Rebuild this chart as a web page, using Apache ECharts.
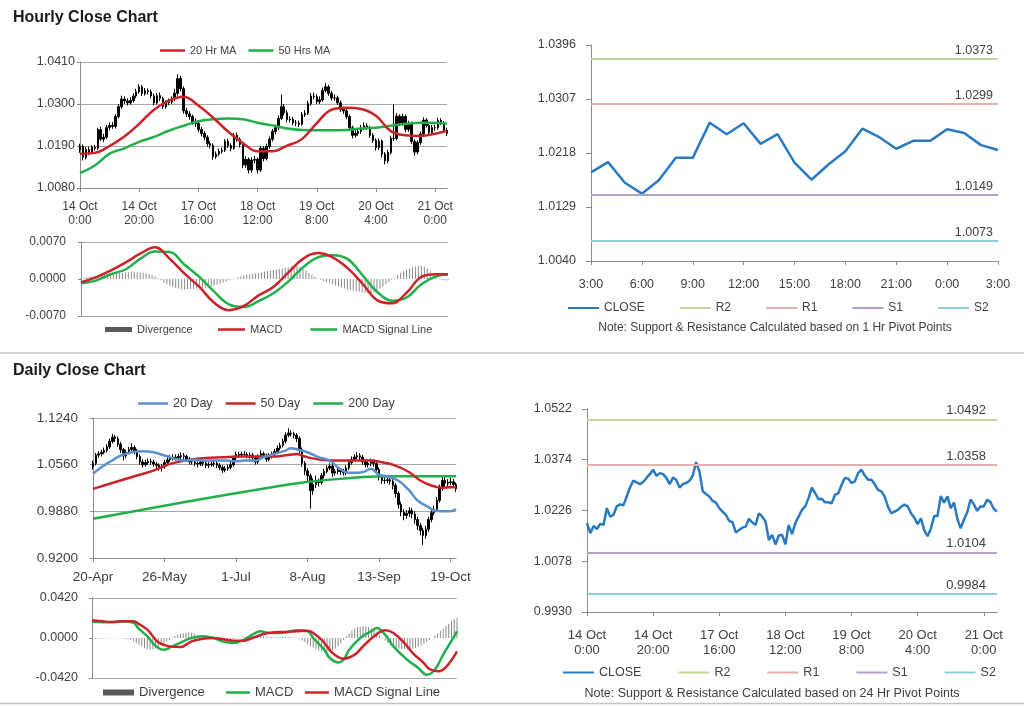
<!DOCTYPE html>
<html><head><meta charset="utf-8">
<script src="https://cdn.jsdelivr.net/npm/echarts@6/dist/echarts.min.js"></script>
<style>html,body{margin:0;padding:0;background:#fff}#c{width:1024px;height:706px}</style>
</head><body><div id="c"></div>
<script>
// ---------------- DATA ----------------
const hourTickLabels = ['14 Oct\n0:00','14 Oct\n20:00','17 Oct\n16:00','18 Oct\n12:00','19 Oct\n8:00','20 Oct\n4:00','21 Oct\n0:00'];
const pivotHourLabels = ['3:00','6:00','9:00','12:00','15:00','18:00','21:00','0:00','3:00'];
const dayTickLabels = ['20-Apr','26-May','1-Jul','8-Aug','13-Sep','19-Oct'];

const hourlyFirstOpen = 1.0180;
const hourlyClose = [1.0189,1.0160,1.0181,1.0172,1.0187,1.0184,1.0233,1.0208,1.0213,1.0238,
1.0244,1.0241,1.0267,1.0293,1.0313,1.0308,1.0303,1.0309,1.0321,1.0332,
1.0345,1.0327,1.0335,1.0332,1.0321,1.0303,1.0322,1.0315,1.0293,1.0303,
1.0306,1.0313,1.0328,1.0367,1.0340,1.0282,1.0274,1.0267,1.0254,1.0249,
1.0233,1.0223,1.0213,1.0196,1.0192,1.0162,1.0169,1.0176,1.0179,1.0202,
1.0191,1.0184,1.0218,1.0208,1.0194,1.0140,1.0155,1.0127,1.0153,1.0155,
1.0127,1.0184,1.0157,1.0189,1.0208,1.0228,1.0238,1.0262,1.0293,1.0277,
1.0259,1.0260,1.0250,1.0250,1.0247,1.0272,1.0276,1.0301,1.0321,1.0319,
1.0306,1.0311,1.0335,1.0345,1.0328,1.0316,1.0316,1.0303,1.0286,1.0282,
1.0267,1.0238,1.0218,1.0223,1.0228,1.0237,1.0243,1.0238,1.0218,1.0205,
1.0186,1.0203,1.0169,1.0151,1.0173,1.0210,1.0210,1.0268,1.0249,1.0267,
1.0233,1.0249,1.0202,1.0174,1.0199,1.0221,1.0258,1.0244,1.0225,1.0238,
1.0238,1.0257,1.0251,1.0231,1.0223];
const hourlyHigh = [1.0196,1.0194,1.0187,1.0188,1.0192,1.0193,1.0238,1.0240,1.0222,1.0245,
1.0252,1.0253,1.0273,1.0300,1.0322,1.0320,1.0315,1.0318,1.0328,1.0340,
1.0352,1.0350,1.0342,1.0341,1.0338,1.0327,1.0329,1.0330,1.0319,1.0310,
1.0314,1.0320,1.0340,1.0378,1.0374,1.0346,1.0290,1.0281,1.0272,1.0262,
1.0255,1.0240,1.0229,1.0218,1.0203,1.0197,1.0176,1.0183,1.0186,1.0208,
1.0209,1.0197,1.0224,1.0225,1.0213,1.0199,1.0163,1.0160,1.0160,1.0164,
1.0160,1.0190,1.0190,1.0196,1.0215,1.0235,1.0246,1.0270,1.0325,1.0300,
1.0284,1.0268,1.0266,1.0258,1.0256,1.0279,1.0284,1.0308,1.0329,1.0330,
1.0326,1.0320,1.0343,1.0355,1.0350,1.0334,1.0325,1.0322,1.0309,1.0293,
1.0288,1.0272,1.0243,1.0231,1.0236,1.0245,1.0252,1.0250,1.0243,1.0224,
1.0210,1.0210,1.0207,1.0174,1.0180,1.0217,1.0300,1.0276,1.0273,1.0274,
1.0272,1.0256,1.0254,1.0207,1.0205,1.0228,1.0265,1.0263,1.0250,1.0245,
1.0246,1.0264,1.0263,1.0256,1.0238];
const hourlyLow = [1.0172,1.0152,1.0155,1.0166,1.0168,1.0178,1.0180,1.0203,1.0200,1.0208,
1.0231,1.0235,1.0236,1.0262,1.0288,1.0300,1.0296,1.0298,1.0304,1.0316,
1.0327,1.0321,1.0322,1.0325,1.0315,1.0297,1.0299,1.0308,1.0287,1.0288,
1.0297,1.0300,1.0308,1.0322,1.0333,1.0275,1.0266,1.0259,1.0246,1.0240,
1.0226,1.0215,1.0205,1.0188,1.0184,1.0154,1.0156,1.0163,1.0170,1.0174,
1.0185,1.0176,1.0180,1.0201,1.0186,1.0132,1.0133,1.0118,1.0120,1.0145,
1.0118,1.0122,1.0150,1.0152,1.0183,1.0202,1.0221,1.0232,1.0258,1.0270,
1.0252,1.0252,1.0244,1.0242,1.0240,1.0243,1.0266,1.0271,1.0296,1.0312,
1.0300,1.0300,1.0306,1.0330,1.0322,1.0309,1.0308,1.0297,1.0279,1.0274,
1.0260,1.0231,1.0210,1.0212,1.0217,1.0222,1.0231,1.0232,1.0211,1.0198,
1.0178,1.0180,1.0160,1.0142,1.0145,1.0168,1.0203,1.0205,1.0242,1.0243,
1.0226,1.0227,1.0195,1.0165,1.0168,1.0193,1.0216,1.0238,1.0218,1.0219,
1.0230,1.0233,1.0245,1.0225,1.0216];

const hrSampleIdx = [0,5,10,15,20,25,30,35,40,45,50,55,60,65,70,75,80,85,90,95,100,105,110,115,120,124];
const ma20Hr = [1.0170,1.0172,1.0190,1.0215,1.0248,1.0285,1.0309,1.0319,1.0296,1.0264,1.0228,1.0198,1.0176,1.0176,1.0191,1.0208,1.0250,1.0285,1.0290,1.0287,1.0269,1.0229,1.0218,1.0216,1.0222,1.0230];
const ma50Hr = [1.0119,1.0139,1.0170,1.0184,1.0201,1.0214,1.0230,1.0243,1.0255,1.0260,1.0262,1.0260,1.0251,1.0244,1.0236,1.0232,1.0231,1.0231,1.0232,1.0236,1.0238,1.0243,1.0248,1.0251,1.0251,1.0248];
const macdHr = [-0.0006,0.0003,0.0016,0.0031,0.0048,0.0060,0.0038,0.0010,-0.0015,-0.0045,-0.0059,-0.0051,-0.0031,-0.0015,0.0012,0.0038,0.0049,0.0041,0.0021,-0.0008,-0.0040,-0.0046,-0.0026,0.0004,0.0009,0.0009];
const signalHr = [-0.0008,-0.0003,0.0009,0.0018,0.0038,0.0052,0.0051,0.0027,0.0004,-0.0024,-0.0048,-0.0053,-0.0042,-0.0027,-0.0005,0.0022,0.0041,0.0045,0.0038,0.0008,-0.0024,-0.0041,-0.0035,-0.0010,0.0005,0.0009];
const divergenceHr = [0.0002,0.0003,0.0004,0.0005,0.0005,0.0006,0.0007,0.0008,0.0008,0.0009,
0.0010,0.0010,0.0011,0.0012,0.0012,0.0013,0.0013,0.0014,0.0014,0.0013,
0.0013,0.0012,0.0011,0.0010,0.0008,0.0005,0.0002,-0.0003,-0.0007,-0.0010,
-0.0013,-0.0015,-0.0017,-0.0018,-0.0019,-0.0020,-0.0020,-0.0019,-0.0019,-0.0018,
-0.0018,-0.0017,-0.0016,-0.0015,-0.0014,-0.0013,-0.0011,-0.0009,-0.0007,-0.0005,
-0.0003,-0.0001,0.0001,0.0003,0.0005,0.0007,0.0008,0.0009,0.0010,0.0011,
0.0012,0.0013,0.0014,0.0015,0.0016,0.0017,0.0018,0.0019,0.0020,0.0021,
0.0022,0.0024,0.0025,0.0024,0.0022,0.0019,0.0016,0.0012,0.0008,0.0004,
0.0001,-0.0002,-0.0004,-0.0006,-0.0008,-0.0010,-0.0012,-0.0014,-0.0016,-0.0018,
-0.0020,-0.0021,-0.0022,-0.0023,-0.0024,-0.0025,-0.0026,-0.0027,-0.0027,-0.0025,
-0.0022,-0.0018,-0.0014,-0.0010,-0.0006,-0.0002,0.0003,0.0008,0.0012,0.0015,
0.0018,0.0020,0.0022,0.0023,0.0024,0.0025,0.0023,0.0020,0.0015,0.0010,
0.0005,0.0001,-0.0002,-0.0003,-0.0003];

const pivotNames = ['R2','R1','S1','S2'];
const hrPivots = [1.0373,1.0299,1.0149,1.0073];
const dayPivots = [1.0492,1.0358,1.0104,0.9984];
const lastDayStart = 100;

const dailyFirstOpen = 1.053;
const dailyClose = [1.058,1.070,1.072,1.074,1.077,1.082,1.090,1.096,1.094,1.086,
1.078,1.069,1.074,1.078,1.081,1.076,1.068,1.060,1.056,1.059,
1.061,1.060,1.057,1.055,1.051,1.053,1.059,1.063,1.066,1.067,
1.066,1.068,1.069,1.068,1.064,1.060,1.060,1.058,1.057,1.060,
1.058,1.055,1.056,1.057,1.058,1.055,1.052,1.048,1.050,1.052,
1.056,1.066,1.071,1.070,1.071,1.071,1.069,1.070,1.066,1.060,
1.067,1.072,1.070,1.064,1.068,1.071,1.075,1.080,1.084,1.090,
1.099,1.102,1.101,1.099,1.094,1.078,1.058,1.047,1.040,1.018,
1.027,1.031,1.030,1.040,1.046,1.051,1.054,1.044,1.046,1.048,
1.046,1.044,1.051,1.059,1.064,1.067,1.069,1.067,1.060,1.056,
1.058,1.060,1.058,1.049,1.038,1.033,1.033,1.034,1.032,1.026,
1.014,0.998,0.987,0.982,0.985,0.989,0.984,0.976,0.967,0.960,
0.953,0.962,0.976,0.986,0.991,1.004,1.022,1.033,1.029,1.030,
1.031,1.027,1.021];
const dailyHigh = [1.062,1.073,1.076,1.078,1.081,1.086,1.094,1.101,1.099,1.097,
1.089,1.080,1.078,1.082,1.087,1.084,1.079,1.071,1.064,1.063,
1.065,1.065,1.063,1.060,1.058,1.057,1.063,1.067,1.070,1.071,
1.071,1.072,1.074,1.073,1.071,1.067,1.065,1.063,1.062,1.066,
1.064,1.061,1.060,1.061,1.062,1.061,1.058,1.055,1.054,1.056,
1.061,1.069,1.075,1.075,1.075,1.076,1.074,1.074,1.073,1.068,
1.071,1.077,1.075,1.072,1.073,1.075,1.079,1.084,1.088,1.094,
1.103,1.109,1.106,1.104,1.102,1.097,1.081,1.061,1.051,1.043,
1.036,1.040,1.036,1.044,1.050,1.055,1.058,1.057,1.050,1.053,
1.051,1.050,1.055,1.063,1.068,1.071,1.074,1.073,1.070,1.064,
1.063,1.065,1.064,1.061,1.052,1.042,1.038,1.039,1.038,1.036,
1.029,1.017,1.002,0.991,0.990,0.994,0.993,0.988,0.980,0.971,
0.964,0.967,0.980,0.990,0.996,1.009,1.027,1.038,1.038,1.035,
1.037,1.035,1.030];
const dailyLow = [1.049,1.055,1.066,1.068,1.071,1.074,1.079,1.087,1.089,1.082,
1.073,1.062,1.065,1.071,1.074,1.071,1.064,1.056,1.052,1.053,
1.056,1.056,1.053,1.051,1.047,1.046,1.050,1.056,1.060,1.062,
1.062,1.063,1.064,1.063,1.060,1.056,1.056,1.054,1.052,1.054,
1.054,1.051,1.051,1.053,1.053,1.051,1.048,1.044,1.045,1.047,
1.049,1.053,1.062,1.066,1.066,1.067,1.065,1.065,1.061,1.056,
1.057,1.064,1.066,1.060,1.061,1.065,1.068,1.072,1.077,1.081,
1.087,1.096,1.097,1.094,1.089,1.073,1.053,1.041,1.030,0.992,
1.012,1.022,1.024,1.027,1.036,1.043,1.048,1.038,1.040,1.042,
1.041,1.040,1.041,1.048,1.056,1.061,1.064,1.063,1.056,1.052,
1.052,1.054,1.053,1.044,1.033,1.028,1.028,1.029,1.027,1.020,
1.008,0.992,0.981,0.975,0.977,0.980,0.978,0.970,0.961,0.953,
0.939,0.948,0.958,0.972,0.982,0.988,1.001,1.018,1.024,1.024,
1.026,1.022,1.016];

const ma20Day = [[0,1.0426],[3,1.0523],[7,1.0620],[10,1.0693],[14,1.0741],[18,1.0756],[22,1.0741],[26,1.0693],[30,1.0644],[33,1.0620],[37,1.0630],[41,1.0620],[44,1.0620],[48,1.0620],[52,1.0610],[55,1.0620],[59,1.0620],[62,1.0668],[66,1.0717],[70,1.0765],[72,1.0799],[75,1.0775],[78,1.0741],[82,1.0668],[86,1.0620],[89,1.0523],[92,1.0450],[94,1.0441],[98,1.0450],[101,1.0499],[104,1.0416],[107,1.0387],[111,1.0329],[115,1.0184],[118,1.0038],[122,0.9942],[124,0.9893],[127,0.9883],[130,0.9883],[132,0.9913]];
const ma50Day = [[0,1.0208],[4,1.0256],[10,1.0329],[16,1.0402],[22,1.0474],[28,1.0571],[35,1.0630],[41,1.0659],[47,1.0668],[53,1.0678],[59,1.0678],[65,1.0678],[71,1.0702],[74,1.0717],[77,1.0678],[83,1.0630],[89,1.0620],[95,1.0620],[101,1.0620],[105,1.0596],[110,1.0547],[115,1.0450],[119,1.0329],[123,1.0256],[127,1.0223],[130,1.0232],[132,1.0232]];
const ma200Day = [[0,0.9772],[22,0.9932],[47,1.0111],[71,1.0271],[77,1.0305],[90,1.0353],[102,1.0387],[119,1.0390],[132,1.0390]];
const macdDay = [[0,0.0172],[4,0.0165],[7,0.0165],[11,0.0175],[15,0.0158],[17,0.0095],[20,0.0018],[22,-0.0053],[24,-0.0105],[26,-0.0123],[29,-0.0088],[33,-0.0035],[36,0.0000],[40,0.0018],[44,0.0000],[47,-0.0035],[51,-0.0053],[55,-0.0018],[58,0.0035],[61,0.0070],[64,0.0053],[68,0.0053],[72,0.0070],[74,0.0081],[78,0.0070],[80,0.0000],[84,-0.0123],[86,-0.0210],[89,-0.0256],[91,-0.0228],[93,-0.0123],[97,0.0000],[101,0.0072],[103,0.0105],[106,0.0035],[109,-0.0088],[114,-0.0228],[118,-0.0315],[121,-0.0385],[124,-0.0333],[127,-0.0175],[131,0.0018],[132,0.0070]];
const signalDay = [[0,0.0186],[4,0.0175],[7,0.0168],[11,0.0175],[15,0.0175],[17,0.0147],[20,0.0088],[22,0.0018],[24,-0.0046],[28,-0.0088],[32,-0.0095],[36,-0.0035],[40,-0.0007],[44,0.0000],[47,-0.0011],[51,-0.0028],[55,-0.0028],[58,0.0000],[62,0.0042],[66,0.0060],[70,0.0063],[74,0.0070],[78,0.0077],[80,0.0053],[83,-0.0018],[85,-0.0088],[87,-0.0158],[91,-0.0217],[95,-0.0175],[98,-0.0088],[102,0.0018],[106,0.0081],[109,0.0053],[113,-0.0053],[116,-0.0158],[120,-0.0263],[122,-0.0326],[125,-0.0350],[128,-0.0305],[132,-0.0140]];
const divergenceDay = [-0.0005,-0.0005,-0.0008,-0.0006,-0.0005,-0.0003,-0.0002,-0.0003,-0.0002,0.0000,
-0.0003,-0.0005,-0.0008,-0.0012,-0.0020,-0.0035,-0.0055,-0.0075,-0.0090,-0.0105,
-0.0115,-0.0120,-0.0118,-0.0110,-0.0095,-0.0080,-0.0060,-0.0040,-0.0020,0.0005,
0.0020,0.0035,0.0045,0.0052,0.0058,0.0060,0.0055,0.0045,0.0030,0.0015,
0.0005,-0.0005,-0.0010,-0.0012,-0.0015,-0.0018,-0.0020,-0.0022,-0.0020,-0.0018,
-0.0015,-0.0010,-0.0005,0.0000,0.0005,0.0010,0.0015,0.0020,0.0025,0.0025,
0.0022,0.0020,0.0018,0.0015,0.0012,0.0010,0.0008,0.0008,0.0010,0.0012,
0.0012,0.0010,0.0008,0.0005,0.0002,-0.0010,-0.0025,-0.0045,-0.0065,-0.0085,
-0.0100,-0.0115,-0.0130,-0.0140,-0.0148,-0.0150,-0.0145,-0.0130,-0.0110,-0.0085,
-0.0055,-0.0020,0.0015,0.0050,0.0080,0.0100,0.0112,0.0118,0.0120,0.0118,
0.0112,0.0100,0.0080,0.0055,0.0025,-0.0005,-0.0030,-0.0055,-0.0075,-0.0090,
-0.0102,-0.0110,-0.0115,-0.0118,-0.0120,-0.0118,-0.0112,-0.0105,-0.0095,-0.0080,
-0.0060,-0.0040,-0.0020,0.0000,0.0025,0.0050,0.0075,0.0100,0.0125,0.0150,
0.0175,0.0195,0.0210];

// ---------------- BUILD ----------------
const F = '"Liberation Sans", Arial, sans-serif';
const TXT = '#404040';
const AXC = '#8c8c8c';
const GRC = '#a6a6a6';
const RED = '#cc2229';
const GREEN = '#1fb04b';
const BLUE20 = '#5a8fd0';
const CLOSEC = '#2a7ac2';
const DIVC = '#595959';
const pivotColors = ['#c3d69b','#e6b0af','#b3a2c7','#93cddd'];

const hrCats = hourlyClose.map((_, i) => String(i));
const dayCats = dailyClose.map((_, i) => String(i));
const lastDayClose = hourlyClose.slice(lastDayStart);
const pvCats = lastDayClose.map((_, i) => String(i));

const hourlyOHLC = hourlyClose.map((c, i) => [i === 0 ? hourlyFirstOpen : hourlyClose[i - 1], c, hourlyLow[i], hourlyHigh[i]]);
const dailyOHLC = dailyClose.map((c, i) => [i === 0 ? dailyFirstOpen : dailyClose[i - 1], c, dailyLow[i], dailyHigh[i]]);
const pair = (idx, vals) => idx.map((x, k) => [x, vals[k]]);
const fmt4 = v => Number(v).toFixed(4);

function xCat(gridIndex, cats, o) {
  return {
    type: 'category', gridIndex, data: cats, boundaryGap: false,
    axisLine: { show: o.line !== false, lineStyle: { color: AXC, width: 1 } },
    axisTick: { show: !!o.tick, interval: o.interval, length: 4, lineStyle: { color: AXC } },
    axisLabel: { show: !!o.labels, interval: o.interval, formatter: o.labels, color: TXT,
      fontFamily: F, fontSize: o.fontSize || 12, lineHeight: o.lineHeight || 14, margin: o.margin || 10 },
    splitLine: { show: false }
  };
}
function yVal(gridIndex, min, max, interval, o) {
  return {
    type: 'value', gridIndex, min, max, interval,
    axisLine: { show: true, lineStyle: { color: AXC, width: 1 } },
    axisTick: { show: true, length: o.tickLen || 4, lineStyle: { color: AXC } },
    axisLabel: { color: TXT, fontFamily: F, fontSize: o.fontSize || 12, margin: o.margin || 8, formatter: fmt4 },
    splitLine: { show: !!o.split, lineStyle: { color: o.splitColors || GRC, width: 1 } }
  };
}
function lineSeries(name, x, y, data, color, smooth) {
  return { type: 'line', name, xAxisIndex: x, yAxisIndex: y, data, symbol: 'none', smooth: smooth,
    lineStyle: { color, width: 2.5 }, itemStyle: { color }, z: 3 };
}
function pivotSeries(name, x, y, value, color, fontSize, dist) {
  return { type: 'line', name, xAxisIndex: x, yAxisIndex: y, data: [], symbol: 'none',
    lineStyle: { color, width: 2 }, itemStyle: { color },
    markLine: { silent: true, symbol: ['none', 'none'], animation: false, precision: 4,
      lineStyle: { color, width: 2, type: 'solid' },
      label: { show: true, position: 'insideEndTop', distance: dist, formatter: p => fmt4(p.value),
        color: TXT, fontFamily: F, fontSize },
      data: [{ yAxis: value }] } };
}
function candle(x, y, data) {
  return { type: 'candlestick', xAxisIndex: x, yAxisIndex: y, data, barWidth: 2,
    itemStyle: { color: '#000', color0: '#000', borderColor: '#000', borderColor0: '#000', borderWidth: 1 }, z: 2 };
}
function divBars(name, x, y, data) {
  return { type: 'bar', name, xAxisIndex: x, yAxisIndex: y, data, barWidth: 1,
    itemStyle: { color: '#8a8a8a' }, z: 1 };
}
function legend(left, top, items, o) {
  return { left, top, padding: 0, selectedMode: false, icon: 'rect',
    data: items.map(([name, color]) => ({ name, itemStyle: { color, borderWidth: 0 } })),
    itemWidth: o.w, itemHeight: o.h, itemGap: o.gap,
    textStyle: { color: TXT, fontFamily: F, fontSize: o.fs } };
}

const grids = [
  { left: 80, top: 62, width: 367, height: 126 },     // 0 hourly candles
  { left: 81, top: 242, width: 367, height: 74 },     // 1 hourly macd
  { left: 591, top: 45, width: 407, height: 216 },    // 2 last day pivots
  { left: 587, top: 409, width: 410, height: 203 },   // 3 hourly with daily pivots
  { left: 93, top: 418, width: 363, height: 140 },    // 4 daily candles
  { left: 92, top: 598, width: 365, height: 80 }      // 5 daily macd
].map(g => Object.assign({ outerBoundsMode: 'none', containLabel: false }, g));

const xAxes = [
  xCat(0, hrCats, { tick: true, interval: 19, labels: (v, i) => hourTickLabels[i / 20] || '', fontSize: 12, lineHeight: 14, margin: 12 }),
  xCat(1, hrCats, { line: false, tick: false }),
  xCat(2, pvCats, { tick: true, interval: 2, labels: (v, i) => pivotHourLabels[i / 3] || '', fontSize: 12.5, margin: 17 }),
  xCat(3, hrCats, { tick: true, interval: 19, labels: (v, i) => hourTickLabels[i / 20] || '', fontSize: 13, lineHeight: 15, margin: 16 }),
  xCat(4, dayCats, { tick: true, interval: 25, labels: (v, i) => dayTickLabels[i / 26] || '', fontSize: 13.5, margin: 12 }),
  xCat(5, dayCats, { line: false, tick: false })
];
const yAxes = [
  yVal(0, 1.008, 1.041, 0.011, { split: true, fontSize: 12.5, margin: 5, tickLen: 3 }),
  yVal(1, -0.007, 0.007, 0.007, { split: true, splitColors: [GRC, 'rgba(0,0,0,0)', GRC], fontSize: 12, margin: 15, tickLen: 3 }),
  yVal(2, 1.004, 1.0396, 0.0089, { split: false, fontSize: 12.5, margin: 15, tickLen: 5 }),
  yVal(3, 0.993, 1.0522, 0.0148, { split: false, fontSize: 12.5, margin: 15, tickLen: 5 }),
  yVal(4, 0.92, 1.124, 0.068, { split: true, fontSize: 13.5, margin: 15, tickLen: 3 }),
  yVal(5, -0.042, 0.042, 0.042, { split: true, splitColors: [GRC, 'rgba(0,0,0,0)', GRC], fontSize: 12.5, margin: 14, tickLen: 3 })
];

const series = [
  candle(0, 0, hourlyOHLC),
  lineSeries('50 Hrs MA', 0, 0, pair(hrSampleIdx, ma50Hr), GREEN, 0.4),
  lineSeries('20 Hr MA', 0, 0, pair(hrSampleIdx, ma20Hr), RED, 0.4),
  divBars('Divergence', 1, 1, divergenceHr),
  lineSeries('MACD Signal Line', 1, 1, pair(hrSampleIdx, signalHr), GREEN, 0.4),
  lineSeries('MACD', 1, 1, pair(hrSampleIdx, macdHr), RED, 0.4),
  lineSeries('CLOSE', 2, 2, lastDayClose, CLOSEC, false),
  lineSeries('CLOSE', 3, 3, hourlyClose, CLOSEC, false),
  candle(4, 4, dailyOHLC),
  lineSeries('200 Day', 4, 4, ma200Day, GREEN, 0.3),
  lineSeries('50 Day', 4, 4, ma50Day, RED, 0.4),
  lineSeries('20 Day', 4, 4, ma20Day, BLUE20, 0.4),
  divBars('Divergence', 5, 5, divergenceDay),
  lineSeries('MACD ', 5, 5, macdDay, GREEN, 0.4),
  lineSeries('MACD Signal Line ', 5, 5, signalDay, RED, 0.4)
];
pivotNames.forEach((n, k) => {
  series.push(pivotSeries(n, 2, 2, hrPivots[k], pivotColors[k], 12.5, [5, 2]));
  series.push(pivotSeries(n, 3, 3, dayPivots[k], pivotColors[k], 13, [11, 2]));
});
const pivotLegendItems = [['CLOSE', CLOSEC]].concat(pivotNames.map((n, k) => [n, pivotColors[k]]));

const legends = [
  legend(160, 45, [['20 Hr MA', RED], ['50 Hrs MA', GREEN]], { w: 25, h: 2.5, gap: 12, fs: 11 }),
  legend(105, 324, [['Divergence', DIVC]], { w: 27, h: 5, gap: 10, fs: 11 }),
  legend(218, 324, [['MACD', RED], ['MACD Signal Line', GREEN]], { w: 27, h: 2.5, gap: 28, fs: 11 }),
  legend(568, 302, pivotLegendItems, { w: 31, h: 2, gap: 35, fs: 12 }),
  legend(563, 666, pivotLegendItems, { w: 31, h: 2, gap: 37, fs: 12.5 }),
  legend(138, 397, [['20 Day', BLUE20], ['50 Day', RED], ['200 Day', GREEN]], { w: 30, h: 2.5, gap: 13, fs: 12.5 }),
  legend(103, 686, [['Divergence', DIVC]], { w: 31, h: 6, gap: 10, fs: 13 }),
  legend(226, 686, [['MACD ', GREEN], ['MACD Signal Line ', RED]], { w: 24, h: 2.5, gap: 8, fs: 13 })
];

const chart = echarts.init(document.getElementById('c'), null, { renderer: 'canvas' });
chart.setOption({
  animation: false,
  backgroundColor: '#fff',
  textStyle: { fontFamily: F },
  title: [
    { text: 'Hourly Close Chart', left: 13, top: 10, padding: 0, textStyle: { fontSize: 16, fontWeight: 'bold', color: '#1a1a1a', fontFamily: F } },
    { text: 'Daily Close Chart', left: 13, top: 363, padding: 0, textStyle: { fontSize: 16, fontWeight: 'bold', color: '#1a1a1a', fontFamily: F } }
  ],
  legend: legends,
  grid: grids,
  xAxis: xAxes,
  yAxis: yAxes,
  series,
  graphic: [
    { type: 'line', shape: { x1: 0, y1: 353, x2: 1024, y2: 353 }, style: { stroke: '#c4c4c4', lineWidth: 1.5 } },
    { type: 'line', shape: { x1: 0, y1: 703.5, x2: 1024, y2: 703.5 }, style: { stroke: '#c4c4c4', lineWidth: 1.5 } },
    { type: 'text', x: 775, y: 328, style: { text: 'Note: Support & Resistance Calculated based on 1 Hr Pivot Points', align: 'center', verticalAlign: 'middle', fill: TXT, font: '12px ' + F } },
    { type: 'text', x: 772, y: 694, style: { text: 'Note: Support & Resistance Calculated based on 24 Hr Pivot Points', align: 'center', verticalAlign: 'middle', fill: TXT, font: '12.5px ' + F } }
  ]
});
</script></body></html>
